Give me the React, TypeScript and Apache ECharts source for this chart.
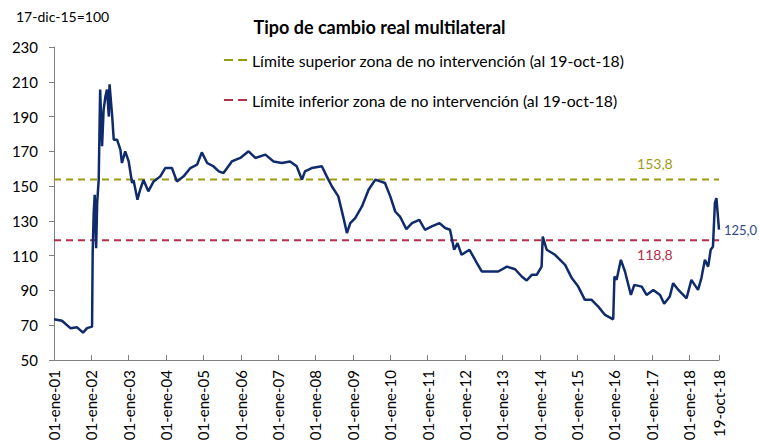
import React, { useEffect, useRef } from "react";
import * as echarts from "echarts";

const dates: string[] = [
  "2001-01-01","2001-03-20","2001-06-10","2001-08-15","2001-10-12","2001-11-20","2002-01-08","2002-01-14","2002-01-24","2002-02-03",
  "2002-02-17","2002-02-27","2002-03-14","2002-03-28","2002-04-16","2002-05-01","2002-05-19","2002-06-03","2002-06-21","2002-06-28",
  "2002-07-24","2002-08-08","2002-09-09","2002-10-12","2002-10-27","2002-11-28","2003-01-01","2003-02-03","2003-02-17","2003-03-28",
  "2003-04-23","2003-05-26","2003-07-12","2003-09-02","2003-11-06","2003-12-24","2004-02-28","2004-04-16","2004-06-21","2004-08-26",
  "2004-10-30","2004-12-16","2005-02-06","2005-04-10","2005-05-31","2005-07-16","2005-10-05","2005-12-27","2006-03-18","2006-05-23",
  "2006-08-29","2006-11-17","2007-02-06","2007-04-27","2007-07-01","2007-08-22","2007-09-20","2007-11-25","2008-03-03","2008-04-20",
  "2008-06-10","2008-08-11","2008-10-01","2008-11-03","2008-12-06","2009-01-23","2009-03-30","2009-06-03","2009-08-08","2009-09-25",
  "2009-11-10","2010-01-01","2010-02-18","2010-04-06","2010-06-07","2010-08-01","2010-10-12","2010-12-06","2011-02-10","2011-04-27",
  "2011-06-21","2011-08-08","2011-09-17","2011-10-20","2011-11-29","2012-02-14","2012-04-27","2012-06-13","2012-08-18","2012-11-21",
  "2013-02-14","2013-05-05","2013-07-09","2013-08-26","2013-10-15","2013-12-02","2014-01-19","2014-01-30","2014-03-10","2014-05-30",
  "2014-09-06","2014-11-10","2015-01-12","2015-03-18","2015-05-23","2015-07-27","2015-10-01","2015-12-20","2016-01-01","2016-01-22",
  "2016-03-04","2016-04-13","2016-06-10","2016-07-13","2016-09-24","2016-11-10","2017-01-15","2017-03-22","2017-05-01","2017-06-25",
  "2017-07-28","2017-09-17","2017-12-06","2018-01-22","2018-03-28","2018-04-30","2018-06-03","2018-07-05","2018-07-30","2018-08-21",
  "2018-09-09","2018-09-24","2018-10-05","2018-10-19",
];

const values: number[] = [
  73.4,72.6,68.3,68.8,65.7,68.3,69.2,111.5,134.5,145,
  114.3,140.3,153.7,205.5,172.9,194,201.7,205.5,190,208.5,
  190,176.7,176.7,171,163.3,170,164.2,151.8,153.5,142.2,
  147.9,153.5,147,152.7,155.6,160.4,160.4,152.7,155.6,160.4,
  162.3,169.4,163.3,161.3,158.5,157.5,164.2,166.2,170,166.2,
  168.1,164.2,163.3,164.2,161.4,153.7,158.5,160.4,161.4,155.6,
  149.8,144.1,131.6,123,128.7,131.6,138.3,147.9,153.7,152.7,
  151.8,144.1,135.4,132.5,125.3,128.7,130.6,124.9,126.8,128.7,
  125.9,124.9,113.4,117.2,110.5,113.4,105.7,100.9,100.9,100.9,
  103.7,102.2,98,95.7,99,99,103.7,121,113.4,110.5,
  104.7,97.1,92.2,84.6,84.6,80.7,75.9,73.4,98,96.1,
  107.6,100.9,87.4,93.2,92.2,87.4,90.3,87.4,82.3,86.5,
  94.2,90.3,85.5,96.1,90.3,97.1,107.6,103.7,113.4,115.3,
  140.3,143.1,135,125.0,
];

const upperLimit = 153.8;
const lowerLimit = 118.8;
const lastValue = 125.0;

const xTickDates: string[] = [
  "2001-01-01","2002-01-01","2003-01-01","2004-01-01","2005-01-01","2006-01-01","2007-01-01","2008-01-01","2009-01-01",
  "2010-01-01","2011-01-01","2012-01-01","2013-01-01","2014-01-01","2015-01-01","2016-01-01","2017-01-01","2018-01-01","2018-10-19",
];

const monthsEs: string[] = ["ene","feb","mar","abr","may","jun","jul","ago","sep","oct","nov","dic"];

const upperName = "Límite superior zona de no intervención (al 19-oct-18)";
const lowerName = "Límite inferior zona de no intervención (al 19-oct-18)";
const mainName = "Tipo de cambio real multilateral";

const ts = (s: string) => {
  const [y, m, d] = s.split("-").map(Number);
  return Date.UTC(y, m - 1, d);
};

const fmtDate = (v: number) => {
  const d = new Date(v);
  const dd = String(d.getUTCDate()).padStart(2, "0");
  const yy = String(d.getUTCFullYear() % 100).padStart(2, "0");
  return `${dd}-${monthsEs[d.getUTCMonth()]}-${yy}`;
};

const fmtNum = (v: number) => v.toFixed(1).replace(".", ",");

const FONT = "Lato, 'Noto Sans', sans-serif";
const NAVY = "#0f2b6b";
const OLIVE = "#9c9c14";
const RED = "#b3304a";
const DASH_ICON = "path://M0,0H9V2H0Z M14,0H23V2H14Z";

export default function App() {
  const ref = useRef<HTMLDivElement>(null);
  useEffect(() => {
    if (!ref.current) return;
    const chart = echarts.init(ref.current, undefined, { renderer: "svg" });
    const xMin = ts(dates[0]);
    const xMax = ts(dates[dates.length - 1]);
    const mainData = dates.map((d, i) => [ts(d), values[i]]);
    const labelDate = ts("2017-01-30");
    const tickVals = xTickDates.map(ts);
    chart.setOption({
      animation: false,
      textStyle: { fontFamily: FONT },
      title: [
        {
          text: mainName,
          left: "center",
          top: 13,
          textStyle: { fontFamily: FONT, fontSize: 18, fontWeight: "bold", color: "#000" },
        },
        {
          text: "17-dic-15=100",
          left: 11,
          top: 4,
          textStyle: { fontFamily: FONT, fontSize: 14, fontWeight: "normal", color: "#000" },
        },
      ],
      legend: {
        orient: "vertical",
        left: 219,
        top: 47,
        itemGap: 24,
        itemWidth: 23,
        itemHeight: 2,
        icon: DASH_ICON,
        data: [upperName, lowerName],
        textStyle: { fontFamily: FONT, fontSize: 15.8, color: "#000" },
        selectedMode: false,
      },
      grid: { left: 54, right: 40, top: 47, bottom: 84, containLabel: false },
      xAxis: {
        type: "value",
        min: xMin,
        max: xMax,
        splitLine: { show: false },
        axisLine: { lineStyle: { color: "#808080", width: 1 } },
        axisTick: {
          show: true,
          inside: true,
          length: 5,
          customValues: tickVals,
          lineStyle: { color: "#808080" },
        },
        axisLabel: {
          customValues: tickVals,
          rotate: 90,
          margin: 10,
          fontFamily: FONT,
          fontSize: 15,
          color: "#000",
          showMaxLabel: true,
          showMinLabel: true,
          formatter: (v: number) => fmtDate(v),
        },
      },
      yAxis: {
        type: "value",
        min: 50,
        max: 230,
        interval: 20,
        splitLine: { show: false },
        axisLine: { show: true, lineStyle: { color: "#808080", width: 1 } },
        axisTick: { show: true, length: 5, lineStyle: { color: "#808080" } },
        axisLabel: { fontFamily: FONT, fontSize: 15, color: "#000", margin: 16 },
      },
      series: [
        {
          name: upperName,
          type: "line",
          symbol: "none",
          data: [[xMin, upperLimit], [xMax, upperLimit]],
          lineStyle: { color: OLIVE, width: 2, type: [7, 5] },
          itemStyle: { color: OLIVE },
          z: 1,
          markPoint: {
            symbol: "circle",
            symbolSize: 0,
            data: [{ coord: [labelDate, upperLimit], value: upperLimit }],
            label: {
              show: true,
              position: "top",
              distance: 9,
              formatter: () => fmtNum(upperLimit),
              color: OLIVE,
              fontFamily: FONT,
              fontSize: 14,
            },
          },
        },
        {
          name: lowerName,
          type: "line",
          symbol: "none",
          data: [[xMin, lowerLimit], [xMax, lowerLimit]],
          lineStyle: { color: RED, width: 2, type: [7, 5] },
          itemStyle: { color: RED },
          z: 1,
          markPoint: {
            symbol: "circle",
            symbolSize: 0,
            data: [{ coord: [labelDate, lowerLimit], value: lowerLimit }],
            label: {
              show: true,
              position: "bottom",
              distance: 7,
              formatter: () => fmtNum(lowerLimit),
              color: RED,
              fontFamily: FONT,
              fontSize: 14,
            },
          },
        },
        {
          name: mainName,
          type: "line",
          symbol: "none",
          data: mainData,
          lineStyle: { color: NAVY, width: 2.5 },
          itemStyle: { color: NAVY },
          z: 2,
          markPoint: {
            symbol: "circle",
            symbolSize: 0,
            data: [{ coord: [xMax, lastValue], value: lastValue }],
            label: {
              show: true,
              position: "right",
              distance: 5,
              formatter: () => fmtNum(lastValue),
              color: "#2e4a86",
              fontFamily: FONT,
              fontSize: 13,
            },
          },
        },
      ],
    });
    return () => chart.dispose();
  }, []);
  return <div ref={ref} style={{ width: 759, height: 444, position: "absolute", left: 0, top: 0 }} />;
}
